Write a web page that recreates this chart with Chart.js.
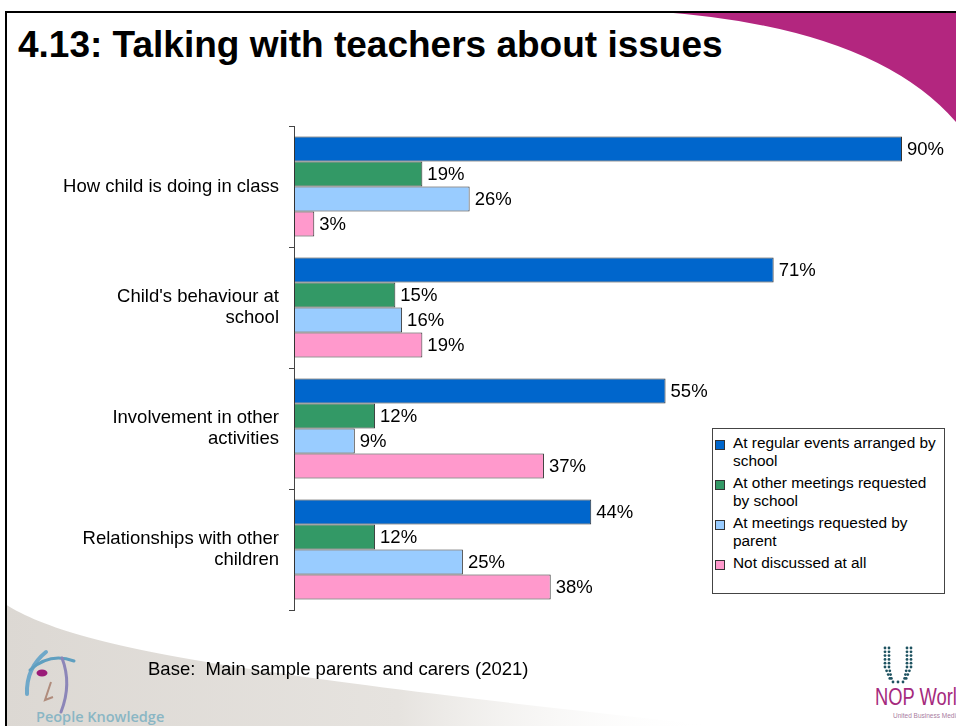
<!DOCTYPE html>
<html>
<head>
<meta charset="utf-8">
<script src="https://cdn.jsdelivr.net/npm/chart.js@4/dist/chart.umd.min.js"></script>
<style>
  html, body { margin: 0; padding: 0; background: #fff; }
  body { width: 956px; height: 726px; position: relative; overflow: hidden; font-family: "Liberation Sans", Arial, sans-serif; }
  #deco { position: absolute; left: 0; top: 0; }
  #frame { position: absolute; left: 5px; top: 11px; width: 960px; height: 730px; border-top: 2px solid #000; border-left: 2px solid #000; }
  #title { position: absolute; left: 18px; top: 26px; margin: 0; font: bold 37px/37px "Liberation Sans", Arial, sans-serif; color: #000; white-space: nowrap; }
  #chart { position: absolute; left: 0; top: 0; }
  #legend { position: absolute; left: 712px; top: 428px; width: 233px; height: 166px; box-sizing: border-box; border: 1px solid #444; background: #fff; padding: 5px 0 0 0; }
  .item { position: relative; padding-left: 20px; width: 210px; font-size: 15.4px; line-height: 17.5px; color: #000; margin-bottom: 5px; }
  .swatch { position: absolute; left: 2px; top: 6px; width: 10px; height: 10px; box-sizing: border-box; border: 1px solid #333; }
  #base { position: absolute; left: 148px; top: 660px; font-size: 18.5px; line-height: 18.5px; color: #000; white-space: pre; }
</style>
</head>
<body>
<svg id="deco" width="956" height="726" xmlns="http://www.w3.org/2000/svg">
  <defs>
    <linearGradient id="swoosh" x1="0" x2="1" y1="0" y2="0">
      <stop offset="0" stop-color="#dcd8d3"/>
      <stop offset="0.55" stop-color="#e6e3df"/>
      <stop offset="1" stop-color="#ffffff" stop-opacity="0"/>
    </linearGradient>
  </defs>
  <path d="M5 604 C 70 645, 210 672, 720 726 L 5 726 Z" fill="url(#swoosh)"/>
  <path d="M 662 12 Q 875 28 956 122 L 956 12 Z" fill="#b3267f"/>
  <!-- People Knowledge mark -->
  <path d="M 27 694 Q 26 668 46 652" fill="none" stroke="#6fa8c9" stroke-width="4" stroke-linecap="round"/>
  <path d="M 30 670 Q 50 652 74 661" fill="none" stroke="#5f9fc0" stroke-width="3" stroke-linecap="round"/>
  <ellipse cx="42" cy="673" rx="5.5" ry="3.5" fill="#9a1b78"/>
  <path d="M 62 658 Q 72 684 61 712" fill="none" stroke="#8c86b8" stroke-width="3" stroke-linecap="round"/>
  <path d="M 51 682 L 45 700 L 53 697" fill="none" stroke="#b08c7c" stroke-width="2"/>
  <text x="36" y="722" font-family="Open Sans, sans-serif" font-weight="600" font-size="14.5" fill="#8ab6c4">People Knowledge</text>
  <g id="nopdots" fill="#1e5260"></g>
  <text x="875" y="705" font-family="Liberation Sans, Arial, sans-serif" font-size="23" fill="#a52a7d" textLength="92" lengthAdjust="spacingAndGlyphs">NOP World</text>
  <text x="893" y="718" font-family="Liberation Sans, Arial, sans-serif" font-size="6.5" fill="#a87ca0">United Business Media</text>
</svg>
<div id="frame"></div>
<h1 id="title">4.13: Talking with teachers about issues</h1>
<canvas id="chart" width="956" height="726"></canvas>
<div id="legend"></div>
<div id="base">Base:  Main sample parents and carers (2021)</div>

<script>
// Question topics (y-axis categories, multi-line labels)
const categories = [
  "How child is doing in class",
  ["Child's behaviour at", "school"],
  ["Involvement in other", "activities"],
  ["Relationships with other", "children"]
];

// Where each topic was discussed (percent of parents/carers)
const regularEvents   = [90, 71, 55, 44];
const otherMeetings   = [19, 15, 12, 12];
const parentMeetings  = [26, 16, 9, 25];
const notDiscussed    = [3, 19, 37, 38];

const seriesNames = [
  "At regular events arranged by school",
  "At other meetings requested by school",
  "At meetings requested by parent",
  "Not discussed at all"
];
const seriesValues = [regularEvents, otherMeetings, parentMeetings, notDiscussed];
const seriesColors = ["#0066cc", "#339966", "#99ccff", "#ff99cc"];

const FONT = "Liberation Sans, Arial, sans-serif";

// Percentage labels at the end of each bar
const valueLabels = {
  id: "valueLabels",
  afterDatasetsDraw(chart) {
    const ctx = chart.ctx;
    ctx.save();
    ctx.font = "18.5px " + FONT;
    ctx.fillStyle = "#000";
    ctx.textAlign = "left";
    ctx.textBaseline = "middle";
    chart.data.datasets.forEach((ds, di) => {
      const meta = chart.getDatasetMeta(di);
      meta.data.forEach((bar, i) => {
        ctx.fillText(ds.data[i] + "%", bar.x + 5, bar.y + 1);
      });
    });
    ctx.restore();
  }
};

const chart = new Chart(document.getElementById("chart"), {
  type: "bar",
  data: {
    labels: categories,
    datasets: seriesNames.map((name, i) => ({
      label: name,
      data: seriesValues[i],
      backgroundColor: seriesColors[i],
      borderColor: "#333",
      borderWidth: 1,
      borderSkipped: false,
      categoryPercentage: 0.826,
      barPercentage: 1
    }))
  },
  options: {
    indexAxis: "y",
    responsive: false,
    animation: false,
    events: [],
    layout: { padding: { left: 0, top: 126, right: 54, bottom: 116 } },
    plugins: { legend: { display: false }, tooltip: { enabled: false } },
    scales: {
      x: { display: false, min: 0, max: 90 },
      y: {
        afterFit(scale) { scale.width = 294; },
        grid: { offset: true, drawOnChartArea: false, drawTicks: true, tickLength: 5, color: "#444" },
        border: { display: true, color: "#444", width: 1 },
        ticks: { color: "#000", padding: 10, font: { family: FONT, size: 18.5, lineHeight: 1.135 } }
      }
    }
  },
  plugins: [valueLabels]
});

// Legend built from the chart's datasets
const legend = document.getElementById("legend");
chart.data.datasets.forEach(ds => {
  const item = document.createElement("div");
  item.className = "item";
  const sw = document.createElement("span");
  sw.className = "swatch";
  sw.style.background = ds.backgroundColor;
  item.appendChild(sw);
  item.appendChild(document.createTextNode(ds.label));
  legend.appendChild(item);
});

// Dotted emblem above the NOP World wordmark
const dots = document.getElementById("nopdots");
const ns = "http://www.w3.org/2000/svg";
function dot(x, y) {
  const c = document.createElementNS(ns, "circle");
  c.setAttribute("cx", x); c.setAttribute("cy", y); c.setAttribute("r", 1.4);
  dots.appendChild(c);
}
for (let r = 0; r < 9; r++) {
  const y = 648 + r * 3.8;
  const spread = r < 6 ? 0 : (r - 5) * 1.6;
  dot(885 + spread, y); dot(889 + spread * 0.5, y);
  dot(907 - spread * 0.5, y); dot(911 - spread, y);
}
[893, 898, 903].forEach(x => dot(x, 682));
</script>
</body>
</html>
